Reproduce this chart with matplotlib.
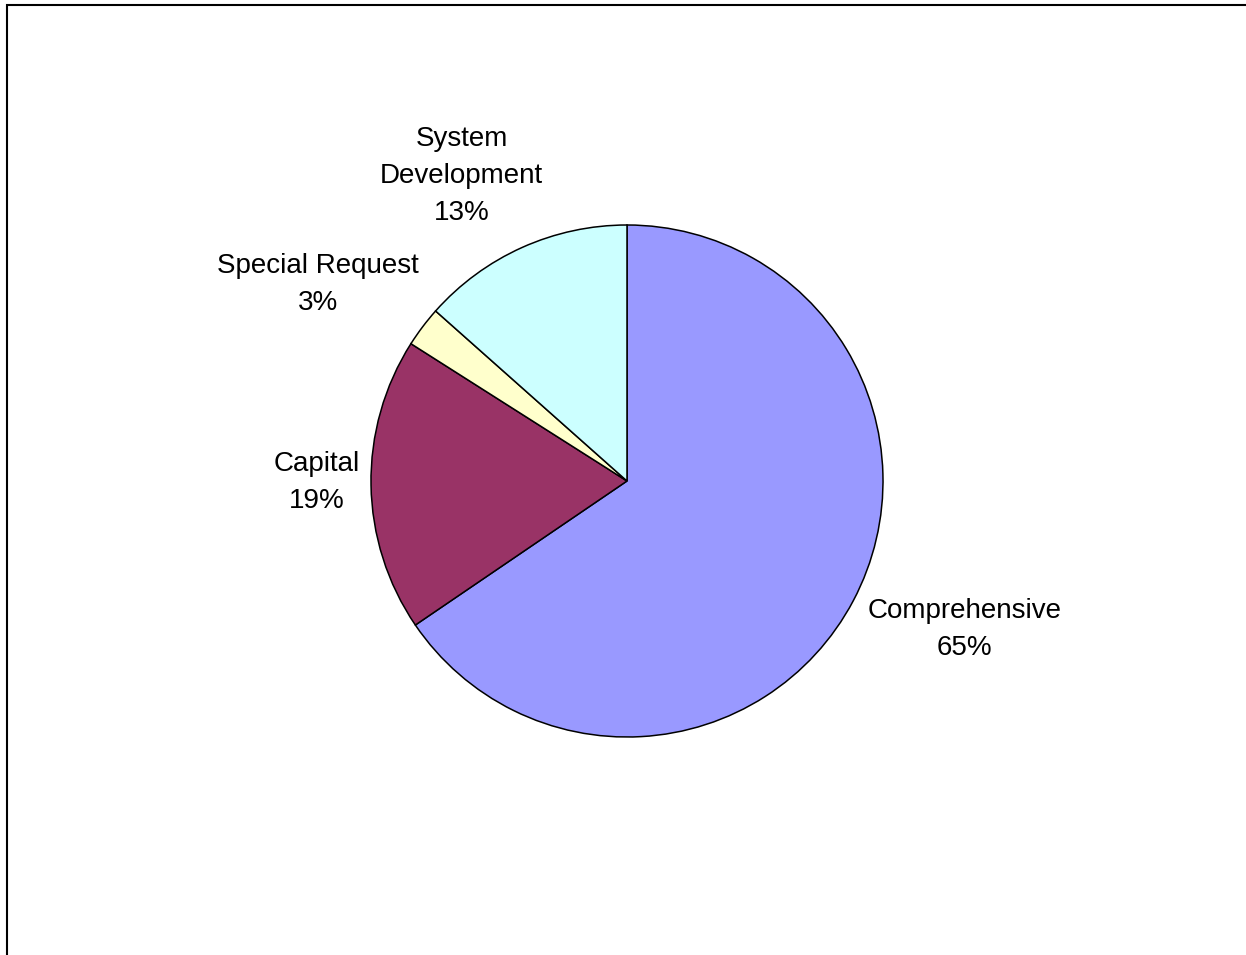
import matplotlib.pyplot as plt
from matplotlib.patches import Rectangle
import numpy as np

# Share of work by project type (clockwise from 12 o'clock)
categories = ["Comprehensive", "Capital", "Special Request", "System Development"]
shares = [65.49, 18.52, 2.55, 13.44]
colors = ["#9999FF", "#993366", "#FFFFCC", "#CCFFFF"]
label_dist = [1.44, 1.21, 1.43, 1.355]
label_turn = [4.2, -0.7, 4.6, 4.3]   # degrees, nudges labels like the original layout

plt.rcParams['font.family'] = ['Liberation Sans', 'DejaVu Sans']

W, H = 1246, 955
fig = plt.figure(figsize=(W / 100, H / 100), dpi=100)
fig.patch.set_facecolor("white")

# frame of the chart area (runs off the right and bottom edges)
fig.patches.append(Rectangle((7 / W, -0.1), 1.2, 1.1 - 5 / H, transform=fig.transFigure,
                             fill=False, edgecolor="black", linewidth=1.5))

cx, cy, r = 627, 481, 256
ax = fig.add_axes([(cx - r) / W, (H - cy - r) / H, 2 * r / W, 2 * r / H])
wedges, _ = ax.pie(shares, colors=colors, startangle=90, counterclock=False,
                   wedgeprops=dict(edgecolor="black", linewidth=1.1))
ax.set_xlim(-1, 1)
ax.set_ylim(-1, 1)
ax.set_aspect("equal")
ax.axis("off")

for w, name, val, d, t in zip(wedges, categories, shares, label_dist, label_turn):
    mid = np.deg2rad((w.theta1 + w.theta2) / 2 + t)
    text = name.replace("System ", "System\n") + "\n" + f"{round(val)}%"
    ax.text(d * np.cos(mid), d * np.sin(mid), text, ha="center", va="center",
            fontsize=20, linespacing=1.55, clip_on=False)

fig.savefig("out.png", dpi=100)
